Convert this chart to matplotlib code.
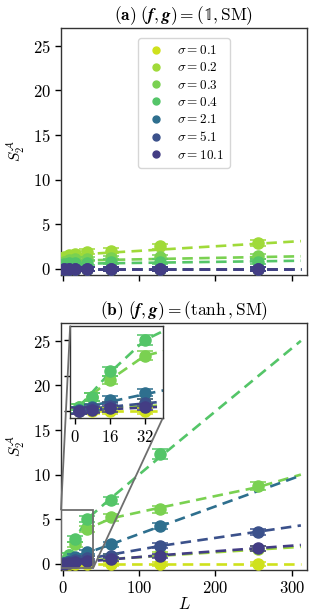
import matplotlib
matplotlib.use("Agg")
import matplotlib.pyplot as plt
import numpy as np
from mpl_toolkits.axes_grid1.inset_locator import mark_inset

plt.rcParams['font.family'] = 'serif'
plt.rcParams['font.serif'] = ['cmr10', 'DejaVu Serif']
plt.rcParams['mathtext.fontset'] = 'cm'
plt.rcParams['axes.formatter.use_mathtext'] = True
plt.rcParams['axes.unicode_minus'] = False

sigmas = ["0.1", "0.2", "0.3", "0.4", "2.1", "5.1", "10.1"]
colors = ["#cfe11c", "#a0da39", "#7ad151", "#54c568", "#2e6f8e", "#3b518b", "#433d84"]

L_all = [2, 8, 16, 32, 64, 128, 256]

# Panel (a): (1, SM)
a_L = [L_all] * 7
a_S = [
    [0.0, 0.0, 0.0, 0.0, 0.0, 0.0, 0.0],
    [1.3, 1.5, 1.7, 1.9, 2.0, 2.5, 2.9],
    [0.8, 1.0, 1.1, 1.1, 1.2, 1.3, 1.4],
    [0.5, 0.6, 0.7, 0.7, 0.8, 0.8, 0.8],
    [0.0, 0.0, 0.0, 0.0, 0.0, 0.0, 0.0],
    [0.0, 0.0, 0.0, 0.0, 0.0, 0.0, 0.0],
    [0.0, 0.0, 0.0, 0.0, 0.0, 0.0, 0.0],
]
a_fitL = [2, 312]
a_fitS = [
    [0.0, 0.0],
    [1.5, 3.1],
    [0.9, 1.4],
    [0.55, 0.9],
    [0.0, 0.0],
    [0.0, 0.0],
    [0.0, 0.0],
]

# Panel (b): (tanh, SM)
b_L = [L_all, L_all, L_all, L_all[:6], L_all[:6], L_all, L_all]
b_S = [
    [0.0, 0.0, 0.0, 0.0, 0.0, 0.0, 0.0],
    [0.1, 0.3, 0.4, 0.6, 0.8, 1.1, 1.7],
    [0.3, 1.0, 2.2, 3.9, 5.2, 6.1, 8.7],
    [0.3, 1.0, 2.8, 5.0, 7.1, 12.3],
    [0.1, 0.3, 0.8, 1.3, 2.2, 4.2],
    [0.05, 0.2, 0.4, 0.6, 0.9, 2.0, 3.6],
    [0.02, 0.1, 0.2, 0.3, 0.5, 0.9, 1.75],
]
b_fitL = [
    [2, 312],
    [2, 312],
    [2, 16, 32, 64, 128, 256, 312],
    [2, 16, 32, 64, 128, 312],
    [2, 32, 128, 312],
    [2, 128, 256, 312],
    [2, 128, 256, 312],
]
b_fitS = [
    [0.0, 0.0],
    [0.2, 1.9],
    [0.4, 2.2, 3.9, 5.1, 6.3, 8.6, 10.0],
    [0.3, 2.7, 5.0, 7.4, 12.0, 25.0],
    [0.2, 1.2, 4.2, 9.9],
    [0.1, 2.0, 3.6, 4.3],
    [0.05, 0.95, 1.75, 2.1],
]
yerr_frac = 0.03

W, H = 322, 612
fig = plt.figure(figsize=(W / 100, H / 100), dpi=100)
axa = fig.add_axes([61 / W, 1 - 275 / H, 246 / W, 247 / H])
axb = fig.add_axes([61 / W, 1 - 570 / H, 246 / W, 247 / H])

dash = (0, (4, 2.4))


def draw(ax, Ls, Ss, fLs, fSs, ms=8, cap=5.5, lw=1.9):
    for i in range(7):
        fl = fLs if np.ndim(fLs[0]) == 0 else fLs[i]
        ax.plot(fl, fSs[i], linestyle=dash, color=colors[i], lw=lw, zorder=2 + i * 0.1)
        ax.errorbar(Ls[i], Ss[i], yerr=[0.22 + yerr_frac * s for s in Ss[i]],
                    fmt='o', color=colors[i], ms=ms, capsize=cap, elinewidth=1.1,
                    capthick=1.1, zorder=3 + i * 0.1)


draw(axa, a_L, a_S, a_fitL, a_fitS)
draw(axb, b_L, b_S, b_fitL, b_fitS)

for ax in (axa, axb):
    ax.set_xlim(-2, 320)
    ax.set_ylim(-0.7, 27)
    ax.set_xticks([0, 100, 200, 300])
    ax.set_yticks([0, 5, 10, 15, 20, 25])
    ax.tick_params(labelsize=12, length=4.5, width=1, pad=3)
    ax.set_ylabel(r"$S_2^{\mathcal{A}}$", fontsize=11, labelpad=4)
    for s in ax.spines.values():
        s.set_linewidth(1.0)
        s.set_color("#333333")

axa.set_xticklabels([])
axb.set_xlabel(r"$L$", fontsize=12, labelpad=0)

axa.set_title(r"$\mathbf{(a)}\ (\boldsymbol{f},\boldsymbol{g}) = (\mathbb{1},\mathrm{SM})$",
              fontsize=12.5, pad=6)
axb.set_title(r"$\mathbf{(b)}\ (\boldsymbol{f},\boldsymbol{g}) = (\tanh,\mathrm{SM})$",
              fontsize=12.5, pad=6)

# legend (markers only)
handles = [plt.Line2D([], [], marker='o', ls='none', color=c, ms=5) for c in colors]
leg = axa.legend(handles, [r"$\sigma = %s$" % s for s in sigmas], loc='upper center',
                 bbox_to_anchor=(0.5, 0.985), fontsize=9.5, handletextpad=0.7,
                 handlelength=1.8, labelspacing=0.32, borderpad=0.45, frameon=True)
leg.get_frame().set_edgecolor("#cccccc")

# inset
axins = axb.inset_axes([10, 16.3, 121, 10.4], transform=axb.transData)
draw(axins, b_L, b_S, b_fitL, b_fitS)
axins.set_xlim(-2, 40)
axins.set_ylim(-0.5, 6)
axins.set_xticks([0, 16, 32])
axins.set_yticks([0, 2.5, 5])
axins.set_yticklabels([])
axins.tick_params(labelsize=12, length=4.5, width=1, pad=3)
for s in axins.spines.values():
    s.set_linewidth(1.0)
    s.set_color("#333333")
mark_inset(axb, axins, loc1=2, loc2=4, fc="none", ec="#6e6e6e", lw=1.3, zorder=6)

fig.savefig("out.png", dpi=100)
